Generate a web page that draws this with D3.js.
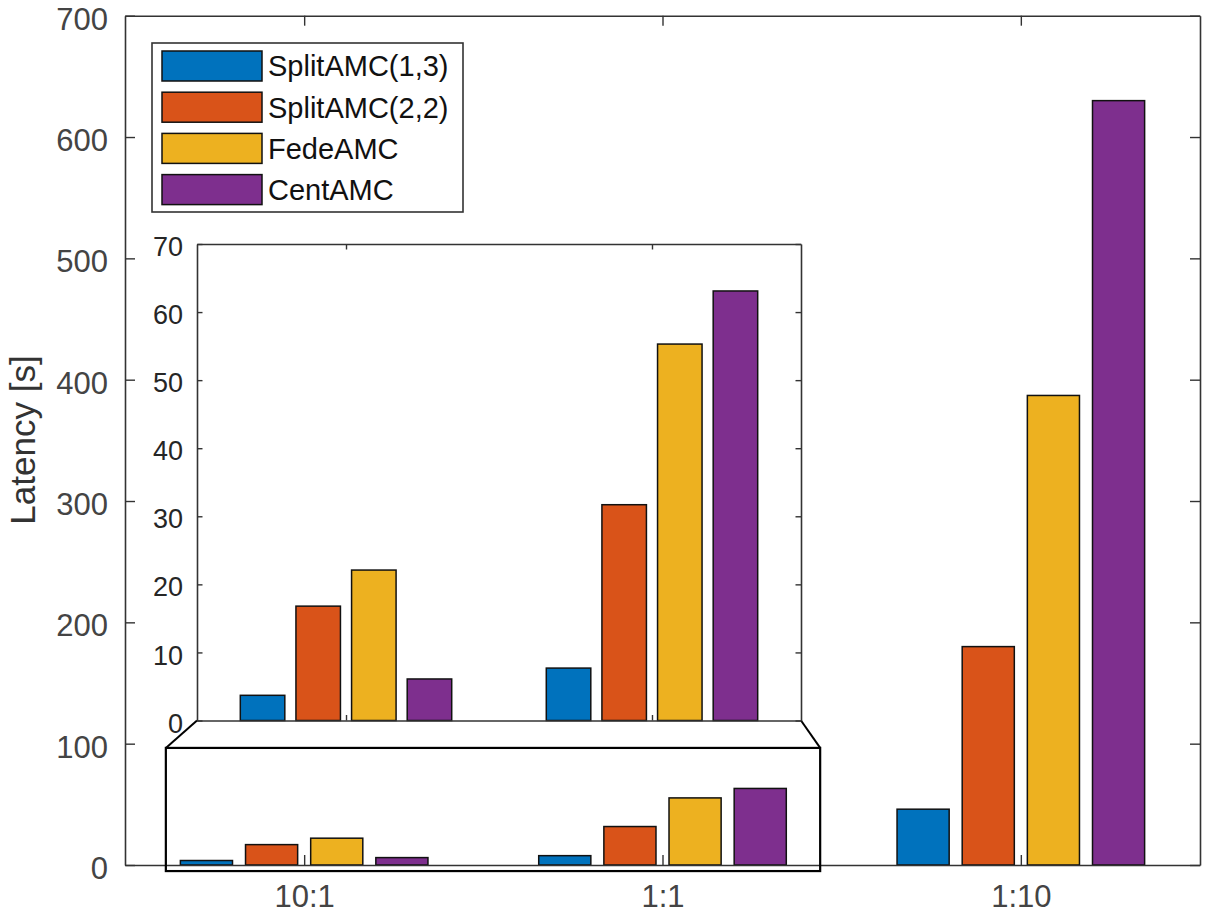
<!DOCTYPE html>
<html lang="en">
<head>
    <meta charset="utf-8">
    <title>Latency</title>
    <script src="https://cdn.jsdelivr.net/npm/d3@7"></script>
    <style>
        body { margin: 0; background: #fff; }
        text { font-family: "Liberation Sans", Arial, Helvetica, sans-serif; }
    </style>
</head>
<body>
    <script type="text/javascript">
        // data
        var categories = ["10:1", "1:1", "1:10"];
        var seriesNames = ["SplitAMC(1,3)", "SplitAMC(2,2)", "FedeAMC", "CentAMC"];
        var split13 = [3.7, 7.7, 46];
        var split22 = [16.8, 31.7, 180];
        var fede = [22.1, 55.3, 387];
        var cent = [6.1, 63.1, 630];
        var mainTicks = [0, 100, 200, 300, 400, 500, 600, 700];
        var insetTicks = [0, 10, 20, 30, 40, 50, 60, 70];
        var colors = ["#0072BD", "#D95319", "#EDB120", "#7E2F8E"];

        var series = [split13, split22, fede, cent];

        var width = 1210;
        var height = 918;

        var svg = d3.select("body").append("svg")
            .attr("width", width)
            .attr("height", height);

        // matlab grouped bar geometry (4 series)
        var groupW = Math.min(0.8, 4 / (4 + 1.5));
        var pitch = groupW / 4;
        var barW = pitch * 0.8;
        function offset(j) { return (j - 1.5) * pitch; }

        function drawAxes(g, x, y, yTicks, xTicks, opt) {
            var x0 = x.range()[0], x1 = x.range()[1];
            var y0 = y.range()[0], y1 = y.range()[1];

            var left = g.append("g").attr("transform", "translate(" + x0 + ",0)")
                .call(d3.axisLeft(y).tickValues(yTicks).tickSizeInner(-opt.tick).tickSizeOuter(0).tickPadding(opt.pad));
            var right = g.append("g").attr("transform", "translate(" + x1 + ",0)")
                .call(d3.axisRight(y).tickValues(yTicks).tickSizeInner(-opt.tick).tickSizeOuter(0).tickFormat(""));
            var bottom = g.append("g").attr("transform", "translate(0," + y0 + ")")
                .call(d3.axisBottom(x).tickValues(d3.range(1, xTicks.length + 1)).tickSizeInner(-opt.tick).tickSizeOuter(0)
                    .tickPadding(opt.xpad).tickFormat(function (d, i) { return opt.xlabels ? xTicks[i] : ""; }));
            var top = g.append("g").attr("transform", "translate(0," + y1 + ")")
                .call(d3.axisTop(x).tickValues(d3.range(1, xTicks.length + 1)).tickSizeInner(-opt.tick).tickSizeOuter(0).tickFormat(""));

            [left, right, bottom, top].forEach(function (a) {
                a.select(".domain").attr("stroke", "#333").attr("stroke-width", 1.6);
                a.selectAll(".tick line").attr("stroke", "#333").attr("stroke-width", 1.4);
                a.selectAll(".tick text").attr("fill", opt.textColor).style("font-size", opt.font + "px");
            });
            left.selectAll(".tick text").attr("dy", "0.43em");
        }

        function drawBars(g, x, y, ncat) {
            series.forEach(function (vals, j) {
                g.selectAll(null)
                    .data(vals.slice(0, ncat))
                    .enter()
                    .append("rect")
                    .attr("x", function (d, i) { return x(i + 1 + offset(j) - barW / 2); })
                    .attr("width", function () { return x(barW) - x(0); })
                    .attr("y", function (d) { return y(d); })
                    .attr("height", function (d) { return y(0) - y(d); })
                    .attr("fill", colors[j])
                    .attr("stroke", "#111")
                    .attr("stroke-width", 1.5);
            });
        }

        // main axes
        var x = d3.scaleLinear().domain([0.5, 3.5]).range([125, 1200]);
        var y = d3.scaleLinear().domain([0, 700]).range([865, 15.7]);

        var main = svg.append("g");
        main.append("rect").attr("x", 125).attr("y", 15.7).attr("width", 1075).attr("height", 849.3).attr("fill", "#fff");
        drawBars(main, x, y, 3);
        drawAxes(main, x, y, mainTicks, categories, { tick: 10, pad: 17, xpad: 20, font: 31, textColor: "#444", xlabels: true });

        // y label
        svg.append("text")
            .attr("transform", "translate(35,440) rotate(-90)")
            .attr("text-anchor", "middle")
            .style("font-size", "35px")
            .attr("fill", "#333")
            .text("Latency [s]");

        // zoom box on the main axes
        var zoomBox = { x0: 0.614, x1: 2.44, y0: -5, y1: 96.5 };
        var bx0 = x(zoomBox.x0), bx1 = x(zoomBox.x1), by0 = y(zoomBox.y1), by1 = y(zoomBox.y0);
        svg.append("rect")
            .attr("x", bx0).attr("y", by0)
            .attr("width", bx1 - bx0).attr("height", by1 - by0)
            .attr("fill", "none").attr("stroke", "#000").attr("stroke-width", 2.2);

        // inset axes
        var xi = d3.scaleLinear().domain([0.513, 2.487]).range([197, 801]);
        var yi = d3.scaleLinear().domain([0, 70]).range([720.5, 244]);

        svg.append("line").attr("x1", xi.range()[0]).attr("y1", yi(0)).attr("x2", bx0).attr("y2", by0)
            .attr("stroke", "#000").attr("stroke-width", 2);
        svg.append("line").attr("x1", xi.range()[1]).attr("y1", yi(0)).attr("x2", bx1).attr("y2", by0)
            .attr("stroke", "#000").attr("stroke-width", 2);

        var inset = svg.append("g");
        inset.append("rect").attr("x", 197).attr("y", 244).attr("width", 604).attr("height", 476.5).attr("fill", "#fff");
        drawBars(inset, xi, yi, 2);
        drawAxes(inset, xi, yi, insetTicks, categories.slice(0, 2), { tick: 5.5, pad: 14, xpad: 8, font: 27, textColor: "#262626", xlabels: false });

        // legend
        var legend = svg.append("g");
        legend.append("rect")
            .attr("x", 152).attr("y", 43).attr("width", 311).attr("height", 169)
            .attr("fill", "#fff").attr("stroke", "#333").attr("stroke-width", 1.6);
        var rows = legend.selectAll("g.row")
            .data(seriesNames)
            .enter()
            .append("g")
            .attr("class", "row")
            .attr("transform", function (d, i) { return "translate(0," + (51 + i * 41.2) + ")"; });
        rows.append("rect")
            .attr("x", 162).attr("y", 0).attr("width", 100).attr("height", 30)
            .attr("fill", function (d, i) { return colors[i]; })
            .attr("stroke", "#111").attr("stroke-width", 1.5);
        rows.append("text")
            .attr("x", 268).attr("y", 15).attr("dy", "0.36em")
            .style("font-size", "29px")
            .attr("fill", "#111")
            .text(function (d) { return d; });
    </script>
</body>
</html>
